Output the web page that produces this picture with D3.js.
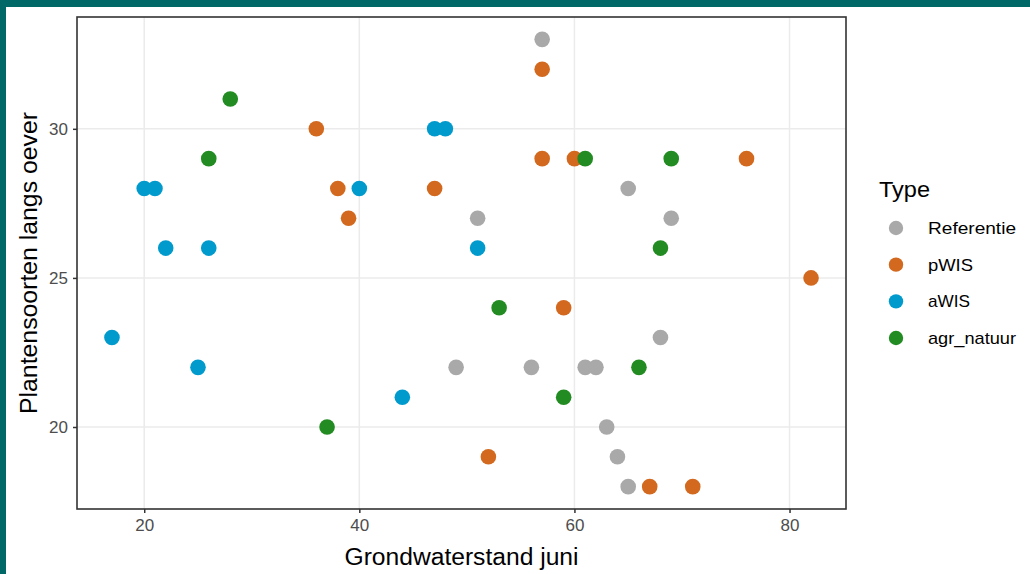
<!DOCTYPE html>
<html>
<head>
<meta charset="utf-8">
<script src="https://cdn.jsdelivr.net/npm/d3@7"></script>
<style>
  html, body { margin: 0; padding: 0; background: #ffffff; }
  svg { display: block; font-family: "Liberation Sans", Arial, sans-serif; }
</style>
</head>
<body>
<svg id="chart" width="1030" height="574"></svg>
<script>
// ---- data ----
const types = ["Referentie", "pWIS", "aWIS", "agr_natuur"];
const typeColors = ["#A9A9A9", "#D2691E", "#009ACD", "#228B22"];

const refX = [57, 65, 69, 51, 68, 49, 56, 61, 62, 63, 64, 65];
const refY = [33, 28, 27, 27, 23, 22, 22, 22, 22, 20, 19, 18];

const pwisX = [57, 36, 57, 60, 76, 38, 47, 39, 82, 59, 52, 67, 71];
const pwisY = [32, 30, 29, 29, 29, 28, 28, 27, 25, 24, 19, 18, 18];

const awisX = [47, 48, 20, 21, 40, 22, 26, 51, 17, 25, 44];
const awisY = [30, 30, 28, 28, 28, 26, 26, 26, 23, 22, 21];

const agrX = [28, 26, 61, 69, 68, 53, 66, 59, 37];
const agrY = [31, 29, 29, 29, 26, 24, 22, 21, 20];

const xTicks = [20, 40, 60, 80];
const yTicks = [20, 25, 30];

const xTitle = "Grondwaterstand juni";
const yTitle = "Plantensoorten langs oever";
const legendTitle = "Type";

const seriesX = [refX, pwisX, awisX, agrX];
const seriesY = [refY, pwisY, awisY, agrY];
const points = [];
types.forEach((t, i) => {
  seriesX[i].forEach((xv, j) => points.push({ type: t, x: xv, y: seriesY[i][j] }));
});

// ---- layout ----
const svg = d3.select("#chart");
const panel = { left: 77, right: 846, top: 17, bottom: 509 };

// teal frame
svg.append("rect").attr("x", 0).attr("y", 0).attr("width", 1030).attr("height", 7).attr("fill", "#016868");
svg.append("rect").attr("x", 0).attr("y", 0).attr("width", 6).attr("height", 574).attr("fill", "#016868");

const x = d3.scaleLinear().domain([13.75, 85.25]).range([panel.left, panel.right]);
const y = d3.scaleLinear().domain([17.25, 33.75]).range([panel.bottom, panel.top]);
const color = d3.scaleOrdinal().domain(types).range(typeColors);

// panel background
svg.append("rect")
  .attr("x", panel.left).attr("y", panel.top)
  .attr("width", panel.right - panel.left).attr("height", panel.bottom - panel.top)
  .attr("fill", "#ffffff");

// grid
const grid = svg.append("g");
grid.selectAll(".gx").data(xTicks).enter().append("line")
  .attr("x1", d => x(d)).attr("x2", d => x(d))
  .attr("y1", panel.top).attr("y2", panel.bottom)
  .attr("stroke", "#EBEBEB").attr("stroke-width", 1.5);
grid.selectAll(".gy").data(yTicks).enter().append("line")
  .attr("x1", panel.left).attr("x2", panel.right)
  .attr("y1", d => y(d)).attr("y2", d => y(d))
  .attr("stroke", "#EBEBEB").attr("stroke-width", 1.5);

// points
svg.append("g").selectAll("circle").data(points).enter().append("circle")
  .attr("cx", d => x(d.x)).attr("cy", d => y(d.y))
  .attr("r", 7.8)
  .attr("fill", d => color(d.type));

// panel border
svg.append("rect")
  .attr("x", panel.left).attr("y", panel.top)
  .attr("width", panel.right - panel.left).attr("height", panel.bottom - panel.top)
  .attr("fill", "none").attr("stroke", "#333333").attr("stroke-width", 1.6);

// axes
const xAxis = d3.axisBottom(x).tickValues(xTicks).tickSize(4).tickPadding(6).tickFormat(d3.format("d"));
const yAxis = d3.axisLeft(y).tickValues(yTicks).tickSize(4).tickPadding(5).tickFormat(d3.format("d"));

const gx = svg.append("g").attr("transform", `translate(0,${panel.bottom})`).call(xAxis);
const gy = svg.append("g").attr("transform", `translate(${panel.left},0)`).call(yAxis);
[gx, gy].forEach(g => {
  g.select(".domain").remove();
  g.selectAll(".tick line").attr("stroke", "#333333").attr("stroke-width", 1.5);
  g.selectAll(".tick text").attr("fill", "#4D4D4D").attr("font-size", 17)
    .attr("font-family", "'Liberation Sans', Arial, sans-serif");
});

// axis titles
svg.append("text")
  .attr("x", (panel.left + panel.right) / 2).attr("y", 565)
  .attr("text-anchor", "middle").attr("font-size", 23).attr("fill", "#000")
  .attr("textLength", 234).attr("lengthAdjust", "spacingAndGlyphs")
  .text(xTitle);
svg.append("text")
  .attr("transform", `translate(37,${(panel.top + panel.bottom) / 2}) rotate(-90)`)
  .attr("text-anchor", "middle").attr("font-size", 23).attr("fill", "#000")
  .attr("textLength", 302).attr("lengthAdjust", "spacingAndGlyphs")
  .text(yTitle);

// legend
const legendWidths = [88, 45, 42, 88];
const legend = svg.append("g");
legend.append("text").attr("x", 879).attr("y", 197).attr("font-size", 22).attr("fill", "#000")
  .attr("textLength", 51).attr("lengthAdjust", "spacingAndGlyphs").text(legendTitle);
const ly = d3.scalePoint().domain(types).range([228, 338]);
const items = legend.selectAll(".item").data(types).enter().append("g");
items.append("circle").attr("cx", 896).attr("cy", d => ly(d)).attr("r", 7.2).attr("fill", d => color(d));
items.append("text").attr("x", 928).attr("y", d => ly(d) + 6)
  .attr("font-size", 17).attr("fill", "#000")
  .attr("textLength", (d, i) => legendWidths[i]).attr("lengthAdjust", "spacingAndGlyphs")
  .text(d => d);
</script>
</body>
</html>
